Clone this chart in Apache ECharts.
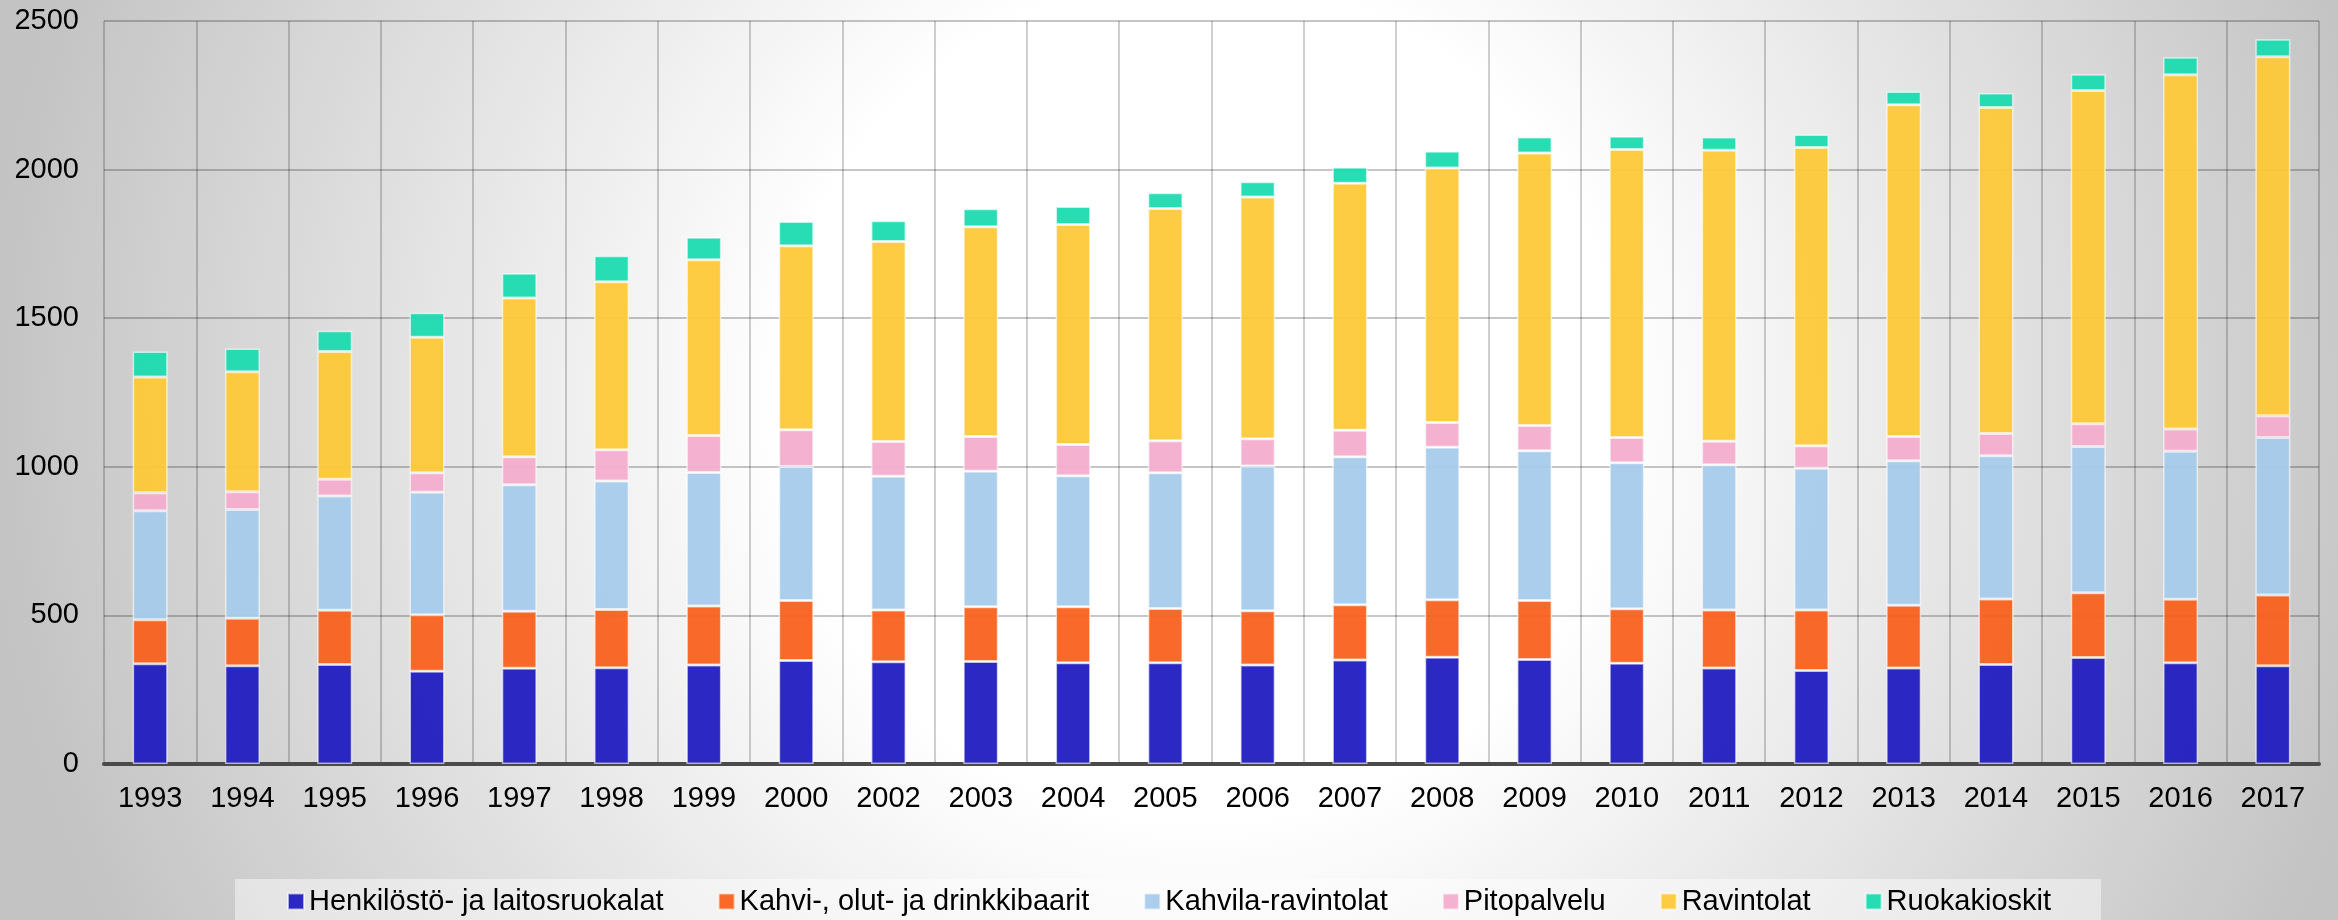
<!DOCTYPE html>
<html lang="fi">
<head>
    <meta charset="UTF-8">
    <title>Ravintolat 1993-2017</title>
    <script src="https://cdn.jsdelivr.net/npm/echarts@6/dist/echarts.min.js"></script>
    <style>
        html, body { margin: 0; padding: 0; }
        #chart {
            width: 2338px;
            height: 920px;
            background: radial-gradient(circle at 1200px 400px, #ffffff 0px, #ffffff 420px, #c4c4c4 1200px, #c0c0c0 1500px);
        }
    </style>
</head>
<body>
<div id="chart"></div>
<script type="text/javascript">
    var years = ['1993', '1994', '1995', '1996', '1997', '1998', '1999', '2000', '2002', '2003', '2004', '2005',
        '2006', '2007', '2008', '2009', '2010', '2011', '2012', '2013', '2014', '2015', '2016', '2017'];

    var seriesNames = ['Henkilöstö- ja laitosruokalat', 'Kahvi-, olut- ja drinkkibaarit', 'Kahvila-ravintolat',
        'Pitopalvelu', 'Ravintolat', 'Ruokakioskit'];

    var henkilosto = [337, 331, 335, 312, 322, 324, 333, 348, 344, 345, 341, 341, 333, 350, 359, 352, 339, 323, 315, 323, 335, 358, 341, 331];
    var kahvibaarit = [148, 159, 182, 190, 192, 196, 199, 202, 174, 184, 188, 182, 183, 186, 194, 198, 183, 195, 203, 211, 220, 218, 213, 238];
    var kahvilaRavintolat = [367, 366, 385, 412, 426, 432, 449, 451, 450, 456, 441, 457, 487, 498, 513, 504, 492, 489, 477, 486, 482, 492, 498, 530];
    var pitopalvelu = [61, 60, 56, 66, 94, 105, 124, 124, 117, 117, 105, 108, 91, 89, 83, 85, 85, 79, 76, 82, 75, 77, 75, 73];
    var ravintolat = [389, 404, 430, 456, 534, 566, 592, 619, 673, 706, 740, 781, 814, 831, 856, 917, 969, 979, 1003, 1116, 1097, 1121, 1192, 1208];
    var ruokakioskit = [86, 78, 70, 82, 83, 87, 75, 81, 70, 60, 61, 53, 51, 54, 57, 54, 44, 45, 44, 45, 49, 55, 59, 59];

    var colors = ['#1f1bc0', '#f9601c', '#a6cbeb', '#f4adcd', '#fdc936', '#1bdbaf'];
    var values = [henkilosto, kahvibaarit, kahvilaRavintolat, pitopalvelu, ravintolat, ruokakioskit];

    var fontFamily = '"Liberation Sans", Arial, sans-serif';

    var chart = echarts.init(document.getElementById('chart'));

    var series = seriesNames.map(function (name, i) {
        return {
            name: name,
            type: 'bar',
            stack: 'total',
            barWidth: 35,
            data: values[i],
            itemStyle: {
                color: colors[i],
                opacity: 0.94,
                borderColor: 'rgba(255,255,255,0.65)',
                borderWidth: 1.5
            }
        };
    });

    chart.setOption({
        backgroundColor: 'transparent',
        animation: false,
        grid: {
            left: 104,
            right: 19,
            top: 21,
            bottom: 156,
            containLabel: false
        },
        legend: {
            data: seriesNames,
            left: 'center',
            top: 879,
            padding: [8, 50, 8, 52],
            backgroundColor: 'rgba(255,255,255,0.45)',
            itemWidth: 16,
            itemHeight: 16,
            itemGap: 54,
            icon: 'rect',
            textStyle: {
                fontFamily: fontFamily,
                fontSize: 29,
                color: '#000'
            }
        },
        xAxis: {
            type: 'category',
            data: years,
            axisLine: {
                show: true,
                lineStyle: { color: '#4a4a4a', width: 4 }
            },
            axisTick: { show: false },
            axisLabel: {
                interval: 0,
                margin: 20,
                fontFamily: fontFamily,
                fontSize: 29,
                color: '#000'
            },
            splitLine: {
                show: true,
                lineStyle: { color: 'rgba(0,0,0,0.25)', width: 1.5 }
            }
        },
        yAxis: {
            type: 'value',
            min: 0,
            max: 2500,
            interval: 500,
            axisLine: { show: false },
            axisTick: { show: false },
            axisLabel: {
                margin: 25,
                fontFamily: fontFamily,
                fontSize: 29,
                color: '#000',
                formatter: function (v) { return String(v); }
            },
            splitLine: {
                show: true,
                lineStyle: { color: 'rgba(0,0,0,0.3)', width: 1.5 }
            }
        },
        series: series
    });
</script>
</body>
</html>
